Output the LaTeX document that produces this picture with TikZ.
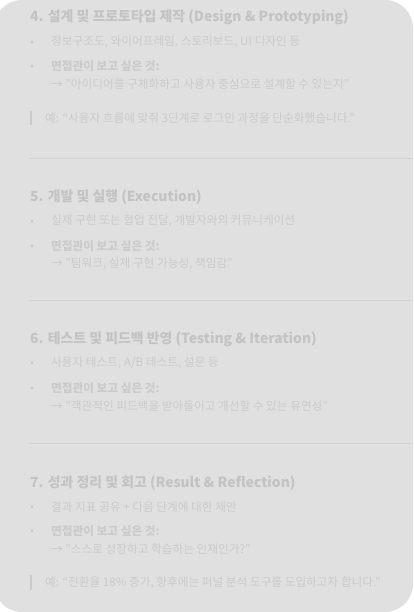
\documentclass[tikz,border=0pt]{standalone}
\usepackage{fontspec}
\setmainfont{Noto Sans CJK KR}
\definecolor{bg}{HTML}{E0E0E0}
\definecolor{ttl}{HTML}{C3C3C3}
\definecolor{txt}{HTML}{CACACA}
\definecolor{sepc}{HTML}{D4D4D4}
\tikzset{
  ttlnode/.style={anchor=west, inner sep=0pt, font=\bfseries\fontsize{13.9}{16}\selectfont, text=ttl},
  bodynode/.style={anchor=west, inner sep=0pt, font=\fontsize{11.65}{14}\selectfont, text=txt},
  boldnode/.style={bodynode, font=\bfseries\fontsize{11.65}{14}\selectfont},
  bulnode/.style={circle, fill=txt, inner sep=0pt, minimum size=3.2pt},
  sepline/.style={draw=sepc, line width=0.8pt},
  qbar/.style={draw=txt, line width=2.5pt}
}
\begin{document}
\begin{tikzpicture}[x=1pt,y=-1pt]
\useasboundingbox (0,0) rectangle (413,612);
\fill[white] (0,0) rectangle (413,612);
\fill[bg, rounded corners=28pt] (-6,0) rectangle (413,612);

% Section 4
\node[ttlnode] (t4) at (30,17) {4. 설계 및 프로토타입 제작 (Design \& Prototyping)};
\node[bulnode] (b4a) at (32,42) {};
\node[bodynode] (l4a) at (51,42) {정보구조도, 와이어프레임, 스토리보드, UI 디자인 등};
\node[bulnode] (b4b) at (32,66) {};
\node[boldnode] (l4b) at (51,66) {면접관이 보고 싶은 것:};
\node[bodynode] (l4c) at (51,84) {→ "아이디어를 구체화하고 사용자 중심으로 설계할 수 있는지"};
\coordinate (q4t) at (31,111);
\coordinate (q4b) at (31,125);
\draw[qbar] (q4t) -- (q4b);
\node[bodynode] (e4) at (45,118) {예: “사용자 흐름에 맞춰 3단계로 로그인 과정을 단순화했습니다.”};
\coordinate (s1a) at (29,158);
\coordinate (s1b) at (413,158);
\draw[sepline] (s1a) -- (s1b);

% Section 5
\node[ttlnode] (t5) at (30,197) {5. 개발 및 실행 (Execution)};
\node[bulnode] (b5a) at (32,221) {};
\node[bodynode] (l5a) at (51,221) {실제 구현 또는 협업 전달, 개발자와의 커뮤니케이션};
\node[bulnode] (b5b) at (32,246) {};
\node[boldnode] (l5b) at (51,246) {면접관이 보고 싶은 것:};
\node[bodynode] (l5c) at (51,264) {→ "팀워크, 실제 구현 가능성, 책임감"};
\coordinate (s2a) at (29,300);
\coordinate (s2b) at (413,300);
\draw[sepline] (s2a) -- (s2b);

% Section 6
\node[ttlnode] (t6) at (30,339) {6. 테스트 및 피드백 반영 (Testing \& Iteration)};
\node[bulnode] (b6a) at (32,363) {};
\node[bodynode] (l6a) at (51,363) {사용자 테스트, A/B 테스트, 설문 등};
\node[bulnode] (b6b) at (32,388) {};
\node[boldnode] (l6b) at (51,388) {면접관이 보고 싶은 것:};
\node[bodynode] (l6c) at (51,406) {→ "객관적인 피드백을 받아들이고 개선할 수 있는 유연성"};
\coordinate (s3a) at (29,443);
\coordinate (s3b) at (413,443);
\draw[sepline] (s3a) -- (s3b);

% Section 7
\node[ttlnode] (t7) at (30,483) {7. 성과 정리 및 회고 (Result \& Reflection)};
\node[bulnode] (b7a) at (32,507) {};
\node[bodynode] (l7a) at (51,507) {결과 지표 공유 + 다음 단계에 대한 제안};
\node[bulnode] (b7b) at (32,531) {};
\node[boldnode] (l7b) at (51,531) {면접관이 보고 싶은 것:};
\node[bodynode] (l7c) at (51,549) {→ "스스로 성장하고 학습하는 인재인가?”};
\coordinate (q7t) at (31,575);
\coordinate (q7b) at (31,590);
\draw[qbar] (q7t) -- (q7b);
\node[bodynode] (e7) at (45,583) {예: “전환율 18\% 증가, 향후에는 퍼널 분석 도구를 도입하고자 합니다.”};
\end{tikzpicture}
\end{document}
